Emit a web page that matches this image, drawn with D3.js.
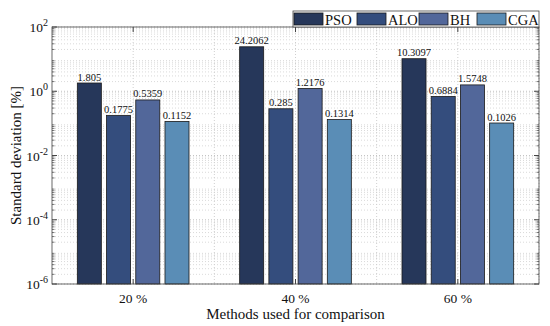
<!DOCTYPE html>
<html>
<head>
<meta charset="utf-8">
<style>
  body { margin: 0; background: #fff; }
  svg text { font-family: "Liberation Serif", "Times New Roman", serif; fill: #111; }
</style>
</head>
<body>
<svg id="chart" width="550" height="326"></svg>
<script src="https://cdnjs.cloudflare.com/ajax/libs/d3/7.8.5/d3.min.js"></script>
<script>
const groups = ["20 %", "40 %", "60 %"];
const methods = ["PSO", "ALO", "BH", "CGA"];
const colors = ["#26375a", "#344d7d", "#52679a", "#5a8db6"];
const psoVals = [1.805, 24.2062, 10.3097];
const aloVals = [0.1775, 0.285, 0.6884];
const bhVals = [0.5359, 1.2176, 1.5748];
const cgaVals = [0.1152, 0.1314, 0.1026];
const labels = [
  ["1.805", "24.2062", "10.3097"],
  ["0.1775", "0.285", "0.6884"],
  ["0.5359", "1.2176", "1.5748"],
  ["0.1152", "0.1314", "0.1026"]
];
const series = [psoVals, aloVals, bhVals, cgaVals];
const yTickExps = [-6, -4, -2, 0, 2];

const pL = 52, pR = 539, pT = 27, pB = 284;
const svg = d3.select("#chart");

const x = d3.scaleLinear().domain([0.5, 3.5]).range([pL, pR]);
const y = d3.scaleLog().domain([1e-6, 1e2]).range([pB, pT]);

// grid
const grid = svg.append("g");
const minorVals = [];
for (let e = -6; e < 2; e++) for (let m = 2; m <= 9; m++) minorVals.push(m * Math.pow(10, e));
grid.selectAll(".ym").data(minorVals).join("line")
  .attr("x1", pL).attr("x2", pR)
  .attr("y1", d => y(d)).attr("y2", d => y(d))
  .attr("stroke", "#d0d0d0").attr("stroke-dasharray", "1,2").attr("stroke-width", 0.8);
grid.selectAll(".yM").data(yTickExps.map(e => Math.pow(10, e))).join("line")
  .attr("x1", pL).attr("x2", pR)
  .attr("y1", d => y(d)).attr("y2", d => y(d))
  .attr("stroke", "#c4c4c4").attr("stroke-dasharray", "1,2");
grid.selectAll(".xg").data(d3.range(1, 3.51, 0.5)).join("line")
  .attr("x1", d => x(d)).attr("x2", d => x(d))
  .attr("y1", pT).attr("y2", pB)
  .attr("stroke", "#cfcfcf").attr("stroke-dasharray", "1,2");

// bars
const step = 0.18, bw = 0.148;
series.forEach((vals, i) => {
  const off = (i - 1.5) * step;
  svg.append("g").selectAll("rect").data(vals).join("rect")
    .attr("x", (d, j) => x(j + 1 + off - bw / 2))
    .attr("width", x(bw) - x(0))
    .attr("y", d => y(d))
    .attr("height", d => pB - y(d))
    .attr("fill", colors[i])
    .attr("stroke", "#1a1a1a").attr("stroke-width", 0.8);
  svg.append("g").selectAll("text").data(vals).join("text")
    .attr("x", (d, j) => x(j + 1 + off))
    .attr("y", d => y(d) - 2.5)
    .attr("text-anchor", "middle")
    .attr("font-size", 10.5)
    .text((d, j) => labels[i][j]);
});

// box and ticks
const ax = svg.append("g").attr("stroke", "#444").attr("fill", "none");
ax.append("rect").attr("x", pL).attr("y", pT).attr("width", pR - pL).attr("height", pB - pT)
  .attr("stroke-width", 0.8);
yTickExps.forEach(e => {
  const yy = y(Math.pow(10, e));
  ax.append("line").attr("x1", pL).attr("x2", pL + 5).attr("y1", yy).attr("y2", yy);
  ax.append("line").attr("x1", pR).attr("x2", pR - 5).attr("y1", yy).attr("y2", yy);
});
minorVals.forEach(v => {
  const yy = y(v);
  ax.append("line").attr("x1", pL).attr("x2", pL + 2.5).attr("y1", yy).attr("y2", yy).attr("stroke-width", 0.7);
  ax.append("line").attr("x1", pR).attr("x2", pR - 2.5).attr("y1", yy).attr("y2", yy).attr("stroke-width", 0.7);
});
[1, 2, 3].forEach(v => {
  ax.append("line").attr("x1", x(v)).attr("x2", x(v)).attr("y1", pB).attr("y2", pB - 5);
  ax.append("line").attr("x1", x(v)).attr("x2", x(v)).attr("y1", pT).attr("y2", pT + 5);
});

// tick labels
yTickExps.forEach(e => {
  const t = svg.append("text")
    .attr("x", pL - 4).attr("y", y(Math.pow(10, e)) + 5)
    .attr("text-anchor", "end").attr("font-size", 13.5);
  t.append("tspan").text("10");
  t.append("tspan").attr("dy", -6).attr("font-size", 10).text(e);
});
svg.append("g").selectAll("text").data(groups).join("text")
  .attr("x", (d, i) => x(i + 1)).attr("y", 303)
  .attr("text-anchor", "middle").attr("font-size", 13.5)
  .text(d => d);

svg.append("text").attr("x", x(2)).attr("y", 319)
  .attr("text-anchor", "middle").attr("font-size", 15)
  .text("Methods used for comparison");
svg.append("text")
  .attr("transform", `translate(21,${(pT + pB) / 2}) rotate(-90)`)
  .attr("text-anchor", "middle").attr("font-size", 15)
  .text("Standard deviation [%]");

// legend
const lg = svg.append("g");
lg.append("rect").attr("x", 293).attr("y", 11).attr("width", pR - 293).attr("height", 16)
  .attr("fill", "#fff").attr("stroke", "#444").attr("stroke-width", 0.8);
const legX = [294, 357, 419, 477];
methods.forEach((m, i) => {
  lg.append("rect").attr("x", legX[i]).attr("y", 13).attr("width", 29).attr("height", 12)
    .attr("fill", colors[i]).attr("stroke", "#1a1a1a").attr("stroke-width", 0.8);
  lg.append("text").attr("x", legX[i] + 31).attr("y", 24.5)
    .attr("font-size", 14.5).text(m);
});
</script>
</body>
</html>
